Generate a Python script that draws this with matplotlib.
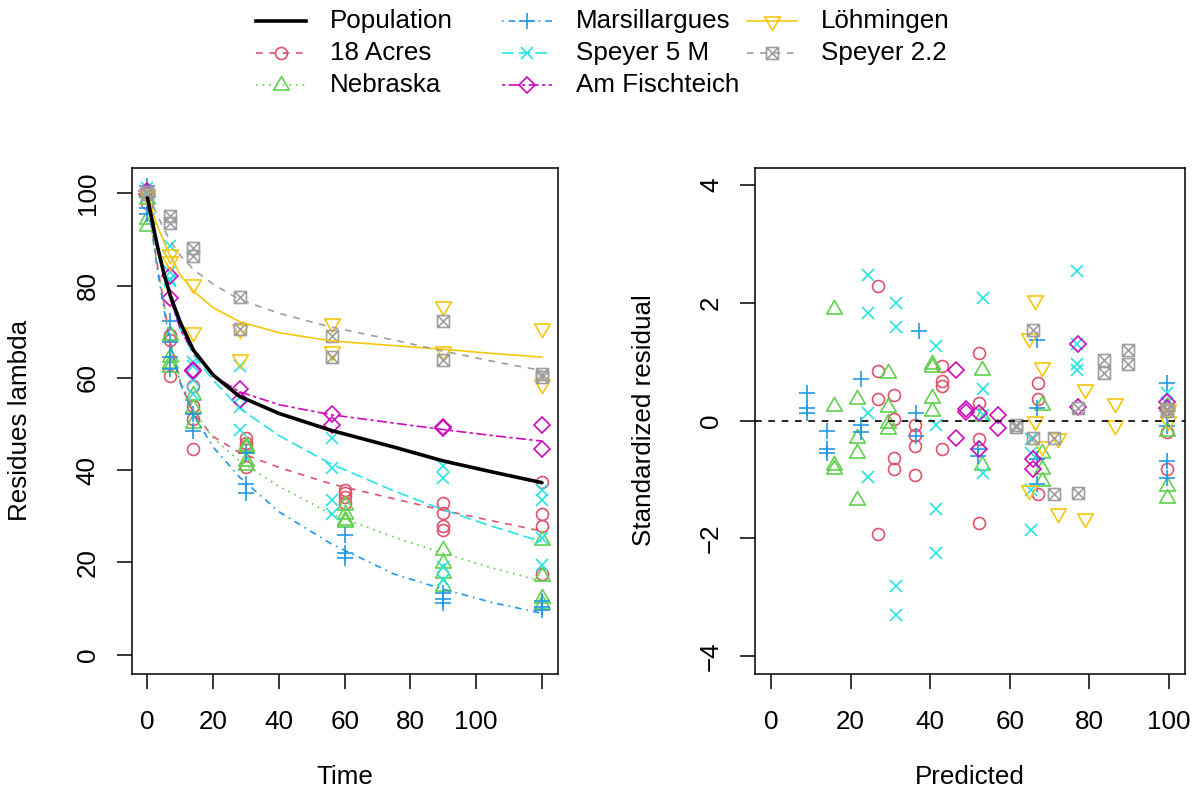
import numpy as np
import matplotlib
matplotlib.use('Agg')
import matplotlib.pyplot as plt
from matplotlib.lines import Line2D
from matplotlib.path import Path

plt.rcParams['font.family'] = ['Liberation Sans', 'DejaVu Sans']
plt.rcParams['font.size'] = 18.7

# fitted curves on a common time grid
t_fit = [0, 1, 2, 3, 5, 7, 10, 14, 20, 28, 40, 56, 75, 90, 105, 120]
fit_pop = [99, 95.5, 92, 88.6, 82.6, 77.7, 72, 66, 60.6, 56, 52.3, 48.6, 45, 42, 39.6, 37.3]
fit_acres = [99.5, 94, 89, 84.5, 76, 67.5, 59, 52.3, 47.3, 43.8, 40.6, 37, 33.8, 31.3, 29, 26.8]
fit_nebr = [99.5, 94, 89, 84.5, 76, 68, 59.5, 53, 47, 42, 36.5, 30.5, 25.5, 22, 18.8, 15.9]
fit_mars = [99.5, 94, 88.5, 83.5, 75, 67, 58.8, 52, 45, 38.5, 31, 24, 17.5, 14.2, 11.3, 9]
fit_sp5 = [99.5, 96, 92.5, 89, 83, 77, 70.5, 65, 59.5, 53.4, 47.5, 41.3, 35.5, 31.4, 27.8, 24.5]
fit_amf = [99.5, 96, 92.5, 89, 83, 77, 70.5, 65.5, 60.5, 57, 54.2, 52, 50.2, 48.8, 47.5, 46.3]
fit_loeh = [99.7, 97.5, 95, 93, 89.5, 86.3, 82.3, 78.8, 75.2, 72.2, 69.8, 68, 67, 66.2, 65.3, 64.5]
fit_sp22 = [99.7, 98.2, 96.7, 95.3, 92.3, 89.6, 86.5, 83.5, 80.3, 77, 74, 71, 68.2, 65.8, 63.6, 61.6]

# observed residues
t_acres = [0, 0, 7, 7, 7, 14, 14, 14, 14, 30, 30, 30, 30, 60, 60, 60, 60, 90, 90, 90, 90, 120, 120, 120, 120]
y_acres = [99.8, 98.0, 69.3, 68.3, 60.5, 58.2, 54.0, 51.0, 44.5, 47.0, 45.8, 45.2, 40.8, 35.8, 35.0, 34.2, 32.8,
           32.9, 30.7, 27.8, 27.0, 37.4, 30.4, 28.0, 17.4]
t_nebr = [0, 0, 0, 0, 7, 7, 7, 7, 14, 14, 14, 30, 30, 30, 30, 60, 60, 60, 60, 90, 90, 90, 90, 120, 120, 120, 120]
y_nebr = [100.3, 98.8, 94.5, 93.0, 69.2, 64.6, 63.3, 62.3, 56.2, 53.5, 50.3, 45.2, 44.9, 42.0, 41.2, 32.5, 30.4,
          29.2, 28.7, 22.8, 19.9, 17.7, 14.8, 24.9, 17.0, 12.3, 11.0]
t_mars = [0, 0, 0, 0, 7, 7, 7, 7, 14, 14, 30, 30, 30, 60, 60, 60, 90, 90, 90, 120, 120, 120]
y_mars = [101.5, 99.3, 96.8, 95.5, 72.3, 67.8, 64.5, 62.0, 52.2, 48.5, 43.7, 36.9, 35.1, 26.0, 22.0, 21.0,
          13.3, 12.0, 11.3, 11.6, 10.3, 9.6]
t_sp5 = [0, 0, 7, 7, 7, 7, 14, 14, 14, 14, 28, 28, 28, 28, 56, 56, 56, 56, 90, 90, 90, 90, 120, 120, 120, 120]
y_sp5 = [101.2, 99.5, 88.6, 83.0, 81.5, 81.0, 63.5, 62.5, 59.5, 56.5, 62.5, 55.8, 53.8, 48.8, 47.0, 40.5, 33.6,
         30.4, 40.9, 38.3, 19.1, 16.3, 35.8, 33.6, 25.3, 19.5]
t_amf = [0, 0, 7, 7, 14, 14, 28, 28, 56, 56, 90, 90, 120, 120]
y_amf = [100.5, 99.8, 82.0, 77.4, 61.8, 61.5, 57.5, 55.3, 52.2, 49.9, 49.3, 49.1, 49.9, 44.6]
t_loeh = [0, 0, 7, 7, 14, 14, 28, 28, 56, 56, 90, 90, 120, 120]
y_loeh = [99.8, 99.5, 86.8, 85.3, 80.3, 70.0, 70.5, 64.0, 72.0, 65.8, 75.5, 65.8, 70.9, 58.6]
t_sp22 = [0, 0, 7, 7, 14, 14, 28, 28, 56, 56, 90, 90, 120, 120]
y_sp22 = [100.3, 99.8, 95.0, 93.5, 88.2, 86.4, 77.5, 70.6, 69.0, 64.6, 72.3, 63.8, 60.8, 60.2]

# predicted vs standardized residual
pred_acres = [99.5, 99.5, 67, 67, 67, 52.3, 52.3, 52.3, 52.3, 42.9, 42.9, 42.9, 42.9, 36.2, 36.2, 36.2, 36.2,
              31.0, 31.0, 31.0, 31.0, 26.8, 26.8, 26.8, 26.8]
res_acres = [-0.2, -0.83, 0.63, 0.36, -1.25, 1.15, 0.3, -0.32, -1.73, 0.93, 0.67, 0.58, -0.49, -0.07, -0.25,
             -0.44, -0.93, 0.44, 0.02, -0.63, -0.82, 2.28, 0.84, 0.37, -1.93]
pred_nebr = [99.5, 99.5, 99.5, 99.5, 68, 68, 68, 68, 53, 53, 53, 40.4, 40.4, 40.4, 40.4, 29.3, 29.3, 29.3, 29.3,
             21.5, 21.5, 21.5, 21.5, 15.9, 15.9, 15.9, 15.9]
res_nebr = [0.25, -0.17, -1.11, -1.31, 0.27, -0.55, -0.83, -1.03, 0.86, 0.07, -0.75, 0.95, 0.9, 0.38, 0.16,
            0.8, 0.23, -0.04, -0.14, 0.36, -0.29, -0.55, -1.34, 1.89, 0.24, -0.75, -0.83]
pred_mars = [99.6, 99.6, 99.6, 99.6, 66.9, 66.9, 66.9, 66.9, 51.9, 51.9, 37.3, 36.4, 36.4, 22.7, 22.7, 22.7,
             14.2, 14.2, 14.2, 9.0, 9.0, 9.0]
res_mars = [0.64, -0.1, -0.69, -0.97, 1.37, 0.21, -0.66, -1.08, -0.48, -0.6, 1.51, 0.13, -0.27, 0.71, -0.07,
            -0.2, -0.18, -0.49, -0.55, 0.47, 0.21, 0.12]
pred_sp5 = [99.5, 99.5, 76.9, 76.9, 76.9, 76.9, 65.2, 65.2, 65.2, 65.2, 53.3, 53.3, 53.3, 53.3, 41.5, 41.5, 41.5,
            41.5, 31.4, 31.4, 31.4, 31.4, 24.5, 24.5, 24.5, 24.5]
res_sp5 = [0.47, 0.3, 2.53, 1.3, 0.95, 0.86, -0.32, -0.55, -1.17, -1.85, 2.08, 0.53, 0.1, -0.89, 1.27, -0.08,
           -1.5, -2.24, 2.0, 1.59, -2.81, -3.29, 2.46, 1.83, 0.13, -0.95]
pred_amf = [99.5, 99.5, 77, 77, 65.7, 65.7, 57.1, 57.1, 52.2, 52.2, 48.9, 48.9, 46.5, 46.5]
res_amf = [0.32, 0.22, 1.29, 0.23, -0.66, -0.83, 0.1, -0.12, 0.13, -0.48, 0.2, 0.14, 0.86, -0.29]
pred_loeh = [99.7, 99.7, 86.3, 86.3, 78.9, 78.9, 72.1, 72.1, 68.2, 68.2, 66.4, 66.4, 64.9, 64.9]
res_loeh = [0.2, -0.01, 0.3, -0.07, 0.53, -1.65, -0.29, -1.56, 0.91, -0.44, 2.05, -0.01, 1.4, -1.17]
pred_sp22 = [99.6, 99.6, 89.6, 89.6, 83.7, 83.7, 77.1, 77.1, 71.0, 71.0, 65.7, 65.7, 61.6, 61.6]
res_sp22 = [0.2, 0.16, 1.2, 0.95, 1.02, 0.8, 0.22, -1.23, -0.29, -1.25, 1.53, -0.29, -0.11, -0.08]

names = ['18 Acres', 'Nebraska', 'Marsillargues', 'Speyer 5 M', 'Am Fischteich', 'Löhmingen', 'Speyer 2.2']
obs_t = [t_acres, t_nebr, t_mars, t_sp5, t_amf, t_loeh, t_sp22]
obs_y = [y_acres, y_nebr, y_mars, y_sp5, y_amf, y_loeh, y_sp22]
fits = [fit_acres, fit_nebr, fit_mars, fit_sp5, fit_amf, fit_loeh, fit_sp22]
preds = [pred_acres, pred_nebr, pred_mars, pred_sp5, pred_amf, pred_loeh, pred_sp22]
resids = [res_acres, res_nebr, res_mars, res_sp5, res_amf, res_loeh, res_sp22]

# R palette and pch / lty
cols = ['#DF536B', '#61D04F', '#2297E6', '#28E2E5', '#CD0BBC', '#F5C710', '#9E9E9E']
tri_up = Path([(0, 1), (0.866, -0.5), (-0.866, -0.5), (0, 1)],
              [Path.MOVETO, Path.LINETO, Path.LINETO, Path.CLOSEPOLY])
tri_dn = Path([(0, -1), (0.866, 0.5), (-0.866, 0.5), (0, -1)],
              [Path.MOVETO, Path.LINETO, Path.LINETO, Path.CLOSEPOLY])
box_x = Path([(-1, -1), (1, -1), (1, 1), (-1, 1), (-1, -1), (-1, -1), (1, 1), (-1, 1), (1, -1)],
             [Path.MOVETO, Path.LINETO, Path.LINETO, Path.LINETO, Path.CLOSEPOLY,
              Path.MOVETO, Path.LINETO, Path.MOVETO, Path.LINETO])
marks = ['o', tri_up, '+', 'x', 'D', tri_dn, box_x]
msz = [8.6, 13.0, 12.2, 8.6, 8.6, 13.0, 8.6]
ltys = [(0, (4, 4)), (0, (1, 3)), (0, (1, 3, 4, 3)), (0, (7, 3)), (0, (2, 2, 6, 2)), '-', (0, (4, 4))]
lw = 1.2

fig = plt.figure(figsize=(12, 8), dpi=100)
ax1 = fig.add_axes([131.7/1200, 126.5/800, 426/1200, 506/800])
ax2 = fig.add_axes([755/1200, 126.5/800, 430/1200, 506/800])

for i in range(7):
    ax1.plot(obs_t[i], obs_y[i], ls='none', marker=marks[i], ms=msz[i], mfc='none',
             mec=cols[i], mew=lw, zorder=2)
for i in range(7):
    ax1.plot(t_fit, fits[i], color=cols[i], ls=ltys[i], lw=lw, zorder=3)
ax1.plot(t_fit, fit_pop, color='black', lw=2.6, zorder=4, solid_capstyle='round')

ax1.set_xlim(-4.8, 124.8)
ax1.set_ylim(-4.06, 105.6)
ax1.set_xticks([0, 20, 40, 60, 80, 100, 120])
ax1.set_xticklabels(['0', '20', '40', '60', '80', '100', ''])
ax1.set_yticks([0, 20, 40, 60, 80, 100])
ax1.set_xlabel('Time')
ax1.set_ylabel('Residues lambda')

for i in range(7):
    ax2.plot(preds[i], resids[i], ls='none', marker=marks[i], ms=msz[i], mfc='none',
             mec=cols[i], mew=lw, zorder=2)
ax2.axhline(0, color='black', ls=(0, (4, 4)), lw=lw, zorder=3)
ax2.set_xlim(-4, 104)
ax2.set_ylim(-4.29, 4.29)
ax2.set_xticks([0, 20, 40, 60, 80, 100])
ax2.set_yticks([-4, -2, 0, 2, 4])
ax2.set_yticklabels(['\u22124', '\u22122', '0', '2', '4'])
ax2.set_xlabel('Predicted')
ax2.set_ylabel('Standardized residual')

for ax in (ax1, ax2):
    for s in ax.spines.values():
        s.set_linewidth(1.1)
    ax.tick_params(direction='out', length=11, width=1.1, color='black')
    ax.tick_params(axis='x', pad=15)
    ax.tick_params(axis='y', pad=12)
    plt.setp(ax.get_yticklabels(), rotation=90, va='center')
    ax.xaxis.set_label_coords(0.5, -0.205)
    ax.xaxis.label.set_va('center')
ax1.yaxis.set_label_coords(-0.262, 0.5)
ax2.yaxis.set_label_coords(-0.258, 0.5)
ax1.yaxis.label.set_va('center')
ax2.yaxis.label.set_va('center')

# legend, three columns as in the original
leg_labels = ['Population'] + names
leg_cols = ['black'] + cols
leg_ls = ['-'] + ltys
leg_mk = [None] + marks
leg_ms = [0] + msz
col_x = [256, 502, 747]
row_y = [21, 53, 85]
pos = [(0, 0), (0, 1), (0, 2), (1, 0), (1, 1), (1, 2), (2, 0), (2, 1)]
for k, (c, r) in enumerate(pos):
    x0 = col_x[c]
    y0 = row_y[r]
    xs = [x0/1200, (x0 + 50)/1200]
    ys = [1 - y0/800, 1 - y0/800]
    fig.add_artist(Line2D(xs, ys, color=leg_cols[k], ls=leg_ls[k], lw=2.6 if k == 0 else lw,
                          transform=fig.transFigure))
    if leg_mk[k] is not None:
        fig.add_artist(Line2D([(x0 + 25)/1200], [1 - y0/800], ls='none', marker=leg_mk[k],
                              ms=leg_ms[k], mfc='none', mec=leg_cols[k], mew=lw,
                              transform=fig.transFigure))
    fig.text((x0 + 74)/1200, 1 - y0/800, leg_labels[k], ha='left', va='center')

fig.savefig('out.png', dpi=100)
